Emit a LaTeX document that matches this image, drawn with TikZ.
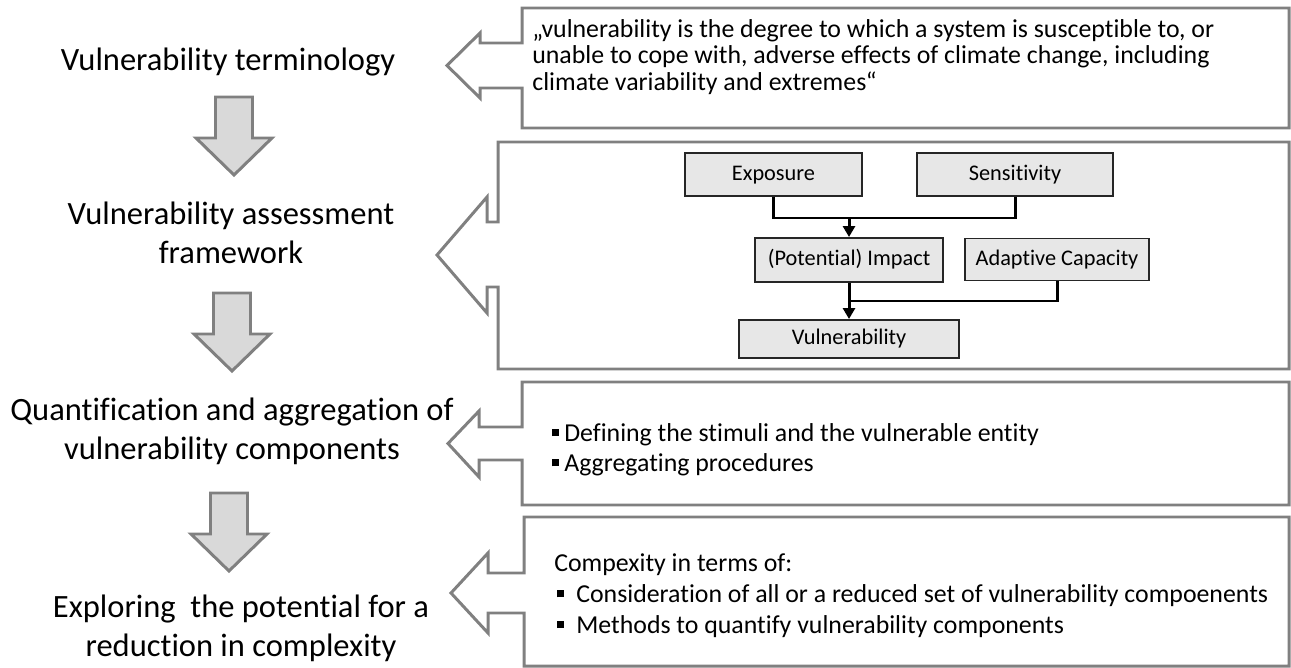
\documentclass[tikz,border=0pt]{standalone}
\usepackage{fontspec}
\setmainfont{Carlito}[Ligatures=NoCommon]
\usetikzlibrary{arrows.meta}

\definecolor{outlinegray}{RGB}{128,128,128}
\definecolor{arrowfill}{RGB}{217,217,217}
\definecolor{boxfill}{RGB}{231,231,231}

\newcommand{\sqbullet}{\raisebox{1.1mm}{\rule{1.4mm}{1.4mm}}}

\begin{document}
\begin{tikzpicture}[
  x=0.2mm, y=-0.2mm,
  steplabel/.style={align=center, inner sep=0pt, font=\fontsize{18.5pt}{22.2pt}\selectfont},
  callout/.style={draw=outlinegray, line width=1.7pt, fill=white, line join=miter},
  boxtext/.style={align=left, anchor=west, inner sep=0pt},
  part/.style={rectangle, draw=black!85, line width=1.1pt, fill=boxfill, inner sep=0pt, text height=0.63em, text depth=0pt, font=\fontsize{12.7pt}{15pt}\selectfont},
  link/.style={line width=1.7pt, line join=miter},
  arrow/.style={link, -{Triangle[length=2.2mm, width=2.4mm]}},
  downarrow/.pic={
    \draw[draw=outlinegray, line width=1.7pt, fill=arrowfill, line join=miter]
      (-18.5,0) -- (18.5,0) -- (18.5,41) -- (38,41) -- (0,78) -- (-38,41) -- (-18.5,41) -- cycle;
  }
]
  \useasboundingbox (0,0) rectangle (1291,668);

  % Steps - left side
  \node[steplabel] (term) at (228,62) {Vulnerability terminology};
  \node[steplabel] (frame) at (231,233) {Vulnerability assessment\\framework};
  \node[steplabel] (quant) at (232,431) {Quantification and aggregation of\\vulnerability components};
  \node[steplabel] (explore) at (241,628) {Exploring\ \ the potential for a\\reduction in complexity};

  \pic at (234,97) {downarrow};
  \pic at (232,293) {downarrow};
  \pic at (229,493) {downarrow};

  % Callout boxes - right side
  \draw[callout] (522,8) -- (1289,8) -- (1289,128) -- (522,128) -- (522,88) -- (480,88)
    -- (480,98) -- (447,65.5) -- (480,33) -- (480,43) -- (522,43) -- cycle;
  \draw[callout] (498,142) -- (1289,142) -- (1289,369) -- (498,369) -- (498,287) -- (487,287)
    -- (487,313) -- (437,255) -- (487,197) -- (487,222) -- (498,222) -- cycle;
  \draw[callout] (522,382) -- (1289,382) -- (1289,505) -- (522,505) -- (522,460) -- (479,460)
    -- (479,477) -- (448,443.5) -- (479,411) -- (479,427) -- (522,427) -- cycle;
  \draw[callout] (524,517) -- (1289,517) -- (1289,666) -- (524,666) -- (524,613) -- (488,613)
    -- (488,633) -- (451,593) -- (488,553) -- (488,573) -- (524,573) -- cycle;

  % Definition
  \node[boxtext, font=\fontsize{14.7pt}{15.2pt}\selectfont] (definition) at (532,57)
    {„vulnerability is the degree to which a system is susceptible to, or\\
     unable to cope with, adverse effects of climate change, including\\
     climate variability and extremes“};

  % Framework
  \node[part, minimum width=35.4mm, minimum height=8.6mm] (expo) at (773.5,174.5) {Exposure};
  \node[part, minimum width=39.2mm, minimum height=8.6mm] (sens) at (1015,174.5) {Sensitivity};
  \node[part, minimum width=37.6mm, minimum height=8.8mm] (impact) at (849,260) {(Potential) Impact};
  \node[part, minimum width=36.8mm, minimum height=8.4mm] (adapt) at (1057,259.5) {Adaptive Capacity};
  \node[part, minimum width=44mm, minimum height=7.6mm] (vuln) at (849,339) {Vulnerability};

  \coordinate (join1) at (849,218);
  \coordinate (join2) at (849,301);
  \draw[link] (expo.south) |- (join1) -| (sens.south);
  \draw[arrow] (join1) -- (impact.north);
  \draw[link] (impact.south) -- (join2) -| (adapt.south);
  \draw[arrow] (join2) -- (vuln.north);

  % Quantification
  \node[boxtext, font=\fontsize{14.7pt}{17.1pt}\selectfont] (stimuli) at (552,450)
    {\sqbullet\hspace{1mm}Defining the stimuli and the vulnerable entity\\
     \sqbullet\hspace{1mm}Aggregating procedures};

  % Complexity
  \node[boxtext, font=\fontsize{14.7pt}{17.6pt}\selectfont] (complexity) at (554,596)
    {Compexity in terms of:\\
     \hspace{0.6mm}\sqbullet\hspace{2.4mm}Consideration of all or a reduced set of vulnerability compoenents\\
     \hspace{0.6mm}\sqbullet\hspace{2.4mm}Methods to quantify vulnerability components};
\end{tikzpicture}
\end{document}
